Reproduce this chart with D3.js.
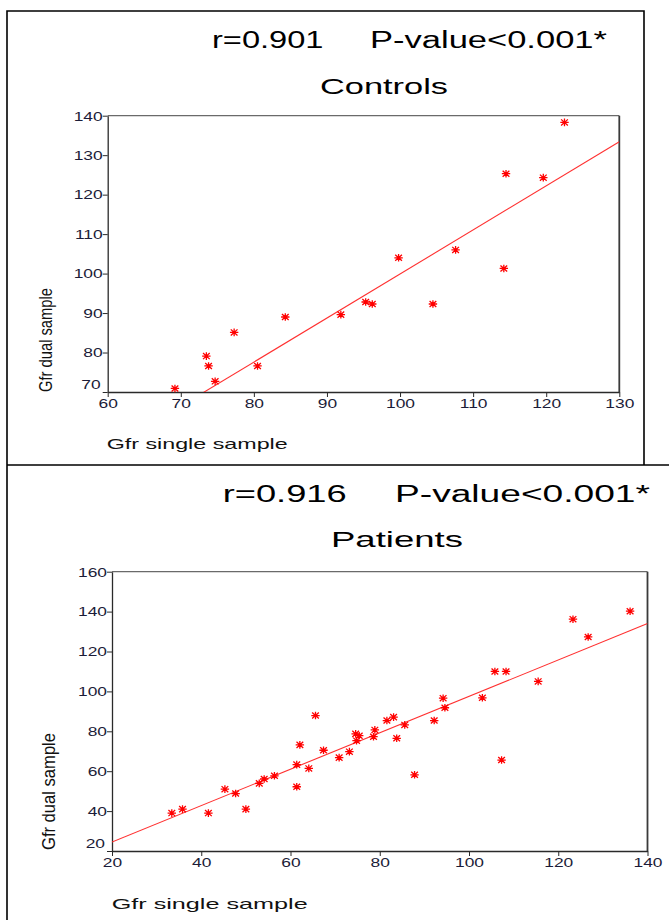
<!DOCTYPE html>
<html>
<head>
<meta charset="utf-8">
<script src="https://cdn.jsdelivr.net/npm/d3@7"></script>
<style>
  body { margin: 0; background: #fff; }
  svg { display: block; }
</style>
</head>
<body>
<script>
// Controls: Gfr single sample (x) vs Gfr dual sample (y)
const controlsSingle = [69.2, 73.5, 73.8, 74.7, 77.3, 80.5, 84.3, 91.9, 95.3, 96.2, 99.8, 104.5, 107.6, 114.2, 114.5, 119.6, 122.5];
const controlsDual   = [70.9, 79.1, 76.6, 72.7, 85.1, 76.6, 89.0, 89.6, 92.8, 92.3, 104.0, 92.3, 106.0, 101.3, 125.3, 124.3, 138.3];
const controlsFit = [-11.7, 1.116];           // intercept, slope
const controlsXTicks = [60, 70, 80, 90, 100, 110, 120, 130];
const controlsYTicks = [70, 80, 90, 100, 110, 120, 130, 140];

// Patients
const patientsSingle = [33.4, 35.8, 41.6, 45.3, 47.7, 50.0, 53.0, 54.1, 56.4, 61.4, 61.4, 62.1, 64.1, 65.6, 67.4, 70.9, 73.2, 74.6, 75.4, 74.8, 78.6, 78.9, 81.6, 83.1, 83.8, 85.6, 87.8, 92.2, 94.2, 94.6, 103.0, 105.8, 107.3, 108.3, 115.5, 123.3, 126.7, 136.1];
const patientsDual   = [39.0, 41.0, 39.0, 51.0, 48.8, 41.0, 53.9, 56.1, 57.7, 52.2, 63.3, 73.2, 61.4, 87.9, 70.5, 66.8, 69.8, 78.7, 77.8, 75.3, 77.3, 80.7, 85.4, 87.1, 76.5, 83.2, 58.2, 85.4, 96.6, 91.8, 96.8, 110.0, 65.6, 110.0, 105.0, 136.2, 127.3, 140.2];
const patientsFit = [6.25, 0.9125];
const patientsXTicks = [20, 40, 60, 80, 100, 120, 140];
const patientsYTicks = [20, 40, 60, 80, 100, 120, 140, 160];

const xTitle = "Gfr single sample";
const yTitle = "Gfr dual sample";

const FONT = "'Liberation Sans', Arial, Helvetica, sans-serif";
const RED = "#ff0000";

const svg = d3.select("body").append("svg")
    .attr("width", 669)
    .attr("height", 920);

// outer panel borders
svg.append("path")
    .attr("d", "M644,465V11H7V920M7,465H669")
    .attr("fill", "none")
    .attr("stroke", "#000")
    .attr("stroke-width", 1.6);

function star(rx, ry) {
  const dx = rx * 0.8, dy = ry * 0.8;
  return `M0,${-ry}V${ry}M${-rx},0H${rx}M${-dx},${-dy}L${dx},${dy}M${-dx},${dy}L${dx},${-dy}`;
}

function stretchedText(parent, txt, x, y, size, len) {
  return parent.append("text")
      .attr("x", x)
      .attr("y", y)
      .attr("font-family", FONT)
      .attr("font-size", size)
      .attr("fill", "#000")
      .attr("textLength", len)
      .attr("lengthAdjust", "spacingAndGlyphs")
      .text(txt);
}

function drawPanel(cfg, id) {
  const x = d3.scaleLinear().domain(d3.extent(cfg.xTicks)).range(cfg.xRange);
  const y = d3.scaleLinear().domain(d3.extent(cfg.yTicks)).range(cfg.yRange);
  const g = svg.append("g");

  g.append("clipPath").attr("id", "clip" + id)
    .append("rect")
      .attr("x", cfg.xRange[0]).attr("y", cfg.yRange[1])
      .attr("width", cfg.xRange[1] - cfg.xRange[0])
      .attr("height", cfg.yRange[0] - cfg.yRange[1]);

  // frame top and right
  g.append("line")
      .attr("x1", cfg.xRange[0]).attr("x2", cfg.xRange[1])
      .attr("y1", cfg.yRange[1]).attr("y2", cfg.yRange[1])
      .attr("stroke", "#6a6a6a").attr("stroke-width", 1.2);
  g.append("line")
      .attr("x1", cfg.xRange[1]).attr("x2", cfg.xRange[1])
      .attr("y1", cfg.yRange[1]).attr("y2", cfg.yRange[0])
      .attr("stroke", "#3a3a3a").attr("stroke-width", 1.8);

  // axes
  const yAxis = g.append("g")
      .attr("transform", `translate(${cfg.xRange[0]},0)`)
      .call(d3.axisLeft(y).tickValues(cfg.yTicks).tickSize(5).tickSizeOuter(0));
  const xAxis = g.append("g")
      .attr("transform", `translate(0,${cfg.yRange[0]})`)
      .call(d3.axisBottom(x).tickValues(cfg.xTicks).tickSize(5).tickSizeOuter(0));

  [yAxis, xAxis].forEach(a => {
    a.attr("font-family", FONT).attr("font-size", 12);
    a.select(".domain").attr("stroke", "#2a2a2a").attr("stroke-width", 1.3);
    a.selectAll(".tick line").attr("stroke", "#2a2a2a");
    a.selectAll(".tick text").attr("fill", "#1c1c38");
  });

  yAxis.selectAll(".tick text").each(function (d) {
    const low = d === cfg.yTicks[0];
    d3.select(this)
        .attr("x", null).attr("dy", null)
        .attr("text-anchor", "end")
        .attr("transform", `translate(${low ? -7 : -5},${low ? -3.7 : 4.3}) scale(1.45,1)`);
  });
  xAxis.selectAll(".tick text").each(function () {
    d3.select(this)
        .attr("y", null).attr("dy", null)
        .attr("text-anchor", "middle")
        .attr("transform", "translate(0,15.5) scale(1.45,1)");
  });

  // fitted line
  const [a, b] = cfg.fit;
  const xs = x.domain();
  g.append("path")
      .datum(xs.map(v => [v, a + b * v]))
      .attr("clip-path", `url(#clip${id})`)
      .attr("d", d3.line().x(d => x(d[0])).y(d => y(d[1])))
      .attr("fill", "none")
      .attr("stroke", "#ff3030")
      .attr("stroke-width", 1.1);

  // points
  g.selectAll(".pt")
    .data(cfg.xs.map((v, i) => [v, cfg.ys[i]]))
    .enter().append("path")
      .attr("class", "pt")
      .attr("transform", d => `translate(${x(d[0])},${y(d[1])})`)
      .attr("d", star(4.2, 3.8))
      .attr("fill", "none")
      .attr("stroke", RED)
      .attr("stroke-width", 1.3);

  // titles
  stretchedText(g, cfg.rText, cfg.rPos[0], cfg.rPos[1], 23, cfg.rPos[2]);
  stretchedText(g, cfg.pText, cfg.pPos[0], cfg.pPos[1], 23, cfg.pPos[2]);
  stretchedText(g, cfg.name, cfg.namePos[0], cfg.namePos[1], 22, cfg.namePos[2]);
  stretchedText(g, xTitle, cfg.xtPos[0], cfg.xtPos[1], 15, cfg.xtPos[2]).attr("fill", "#111");

  g.append("text")
      .attr("transform", `translate(${cfg.ytPos[0]},${cfg.ytPos[1]}) scale(${cfg.ytPos[3]},1) rotate(-90)`)
      .attr("font-family", FONT)
      .attr("font-size", 15)
      .attr("fill", "#111")
      .attr("textLength", cfg.ytPos[2])
      .attr("lengthAdjust", "spacingAndGlyphs")
      .text(yTitle);
}

drawPanel({
  xs: controlsSingle, ys: controlsDual, fit: controlsFit,
  xTicks: controlsXTicks, yTicks: controlsYTicks,
  xRange: [107.7, 619.3], yRange: [392, 115.7],
  rText: "r=0.901", rPos: [212, 48.3, 111.5],
  pText: "P-value<0.001*", pPos: [370, 48.3, 237],
  name: "Controls", namePos: [320, 94, 128],
  xtPos: [106.7, 448.5, 181],
  ytPos: [52, 392, 104, 1.25]
}, 1);

drawPanel({
  xs: patientsSingle, ys: patientsDual, fit: patientsFit,
  xTicks: patientsXTicks, yTicks: patientsYTicks,
  xRange: [112, 647.5], yRange: [851, 571.7],
  rText: "r=0.916", rPos: [222.7, 502.3, 124],
  pText: "P-value<0.001*", pPos: [395, 502.3, 255],
  name: "Patients", namePos: [331, 547.3, 132],
  xtPos: [111.7, 908.5, 196],
  ytPos: [55, 850, 117, 1.25]
}, 2);
</script>
</body>
</html>
